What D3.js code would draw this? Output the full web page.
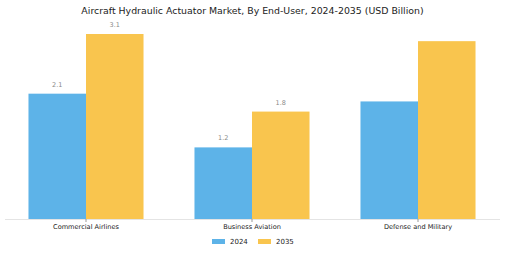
<!DOCTYPE html>
<html>
<head>
<meta charset="utf-8">
<script src="https://cdn.jsdelivr.net/npm/d3@7"></script>
<style>
  body { margin: 0; background: #fff; }
  svg { display: block; font-family: "DejaVu Sans", sans-serif; }
</style>
</head>
<body>
<div id="chart"></div>
<script>
var categories = ["Commercial Airlines", "Business Aviation", "Defense and Military"];
var years = ["2024", "2035"];
var values2024 = [2.1, 1.2, 1.97];
var values2035 = [3.1, 1.8, 2.98];
var showLabels = [true, true, false];
var colors = ["#5DB3E8", "#F9C54E"];

var W = 505, H = 253,
  margin = {top: 0, right: 4, bottom: 34, left: 3},
  baseY = 219;

var svg = d3.select("#chart").append("svg")
  .attr("width", W)
  .attr("height", H);

var data = categories.map(function(c, i) {
  return {cat: c, vals: [values2024[i], values2035[i]], label: showLabels[i]};
});

var x0 = d3.scaleBand()
  .domain(categories)
  .range([margin.left, W - margin.right])
  .paddingInner(0.307)
  .paddingOuter(0.1535);

var x1 = d3.scaleBand()
  .domain(years)
  .range([0, x0.bandwidth()]);

var y = d3.scaleLinear()
  .domain([0, 3.1])
  .range([baseY, 34]);

svg.append("text")
  .attr("x", W / 2)
  .attr("y", 13.5)
  .attr("text-anchor", "middle")
  .attr("font-size", "9.4px")
  .attr("fill", "#222")
  .text("Aircraft Hydraulic Actuator Market, By End-User, 2024-2035 (USD Billion)");

// baseline
svg.append("line")
  .attr("x1", 5).attr("x2", 500)
  .attr("y1", baseY + 0.5).attr("y2", baseY + 0.5)
  .attr("stroke", "#e4e4e4");

var groups = svg.selectAll(".grp")
  .data(data)
  .enter().append("g")
  .attr("class", "grp")
  .attr("transform", function(d) { return "translate(" + x0(d.cat) + ",0)"; });

groups.selectAll("rect")
  .data(function(d) { return d.vals.map(function(v, i) { return {year: years[i], v: v, label: d.label}; }); })
  .enter().append("rect")
  .attr("x", function(d) { return x1(d.year); })
  .attr("y", function(d) { return y(d.v); })
  .attr("width", x1.bandwidth())
  .attr("height", function(d) { return baseY - y(d.v); })
  .attr("fill", function(d, i) { return colors[i]; });

groups.selectAll(".val")
  .data(function(d) { return d.label ? d.vals.map(function(v, i) { return {year: years[i], v: v}; }) : []; })
  .enter().append("text")
  .attr("class", "val")
  .attr("x", function(d) { return x1(d.year) + x1.bandwidth() / 2; })
  .attr("y", function(d) { return y(d.v) - 7; })
  .attr("text-anchor", "middle")
  .attr("font-size", "6.5px")
  .attr("fill", "#888")
  .text(function(d) { return d.v.toFixed(1); });

// tick marks at category centers
groups.append("line")
  .attr("x1", x0.bandwidth() / 2).attr("x2", x0.bandwidth() / 2)
  .attr("y1", baseY).attr("y2", baseY + 3)
  .attr("stroke", "#999");

svg.selectAll(".cat")
  .data(categories)
  .enter().append("text")
  .attr("class", "cat")
  .attr("x", function(d) { return x0(d) + x0.bandwidth() / 2; })
  .attr("y", 229)
  .attr("text-anchor", "middle")
  .attr("font-size", "6.6px")
  .attr("fill", "#222")
  .text(function(d) { return d; });

var legend = svg.selectAll(".legend")
  .data(years)
  .enter().append("g")
  .attr("class", "legend")
  .attr("transform", function(d, i) { return "translate(" + (212 + i * 46) + ",239)"; });

legend.append("rect")
  .attr("width", 13)
  .attr("height", 5)
  .attr("fill", function(d, i) { return colors[i]; });

legend.append("text")
  .attr("x", 18)
  .attr("y", 2.5)
  .attr("dy", "0.35em")
  .attr("font-size", "7px")
  .attr("fill", "#222")
  .text(function(d) { return d; });
</script>
</body>
</html>
